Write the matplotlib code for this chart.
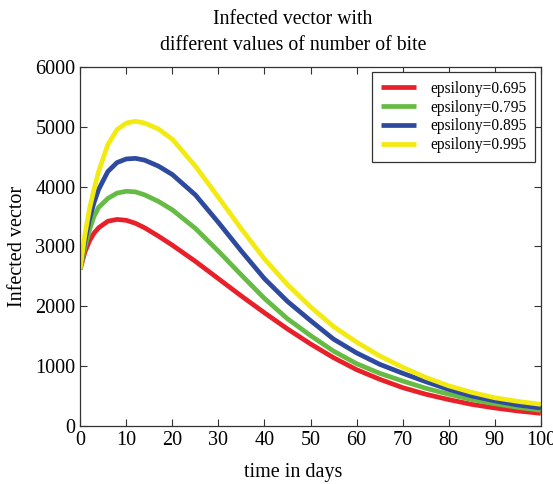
import matplotlib
matplotlib.use("Agg")
import matplotlib.pyplot as plt
import numpy as np

# values
days = [0, 1, 2, 3, 4, 6, 8, 10, 12, 14, 17, 20, 25, 30, 35, 40, 45, 50,
        55, 60, 65, 70, 75, 80, 85, 90, 95, 100]
eps_0695 = [2620, 2900, 3090, 3220, 3310, 3420, 3450, 3435, 3385, 3310, 3170,
            3020, 2750, 2460, 2170, 1890, 1620, 1370, 1140, 940, 780, 640,
            530, 440, 360, 300, 250, 210]
eps_0795 = [2620, 2980, 3270, 3500, 3650, 3800, 3890, 3920, 3910, 3860, 3750,
            3610, 3300, 2920, 2520, 2130, 1790, 1510, 1250, 1040, 880, 750,
            630, 530, 440, 370, 310, 260]
eps_0895 = [2620, 3080, 3450, 3730, 3950, 4250, 4400, 4460, 4470, 4440, 4340,
            4200, 3860, 3400, 2920, 2460, 2080, 1760, 1450, 1220, 1030, 880,
            740, 610, 500, 420, 350, 300]
eps_0995 = [2620, 3180, 3620, 3950, 4250, 4700, 4950, 5060, 5090, 5060, 4960,
            4790, 4340, 3820, 3290, 2790, 2360, 1990, 1660, 1400, 1170, 980,
            810, 670, 560, 470, 410, 360]

labels = ['epsilony=0.695', 'epsilony=0.795', 'epsilony=0.895', 'epsilony=0.995']
colors = ['#e8202a', '#66bb44', '#2e4a9e', '#f2ea10']

plt.rcParams['font.family'] = ['Liberation Serif', 'DejaVu Serif']

fig = plt.figure(figsize=(5.53, 4.84), dpi=100)
ax = fig.add_axes([0.145, 0.12, 0.833, 0.742])

for vals, lab, c in zip([eps_0695, eps_0795, eps_0895, eps_0995], labels, colors):
    ax.plot(days, vals, color=c, linewidth=3.4, label=lab,
            solid_joinstyle='round', solid_capstyle='butt')

ax.set_xlim(0, 100)
ax.set_ylim(0, 6000)
ax.set_xticks(np.arange(0, 101, 10))
ax.set_yticks(np.arange(0, 6001, 1000))
ax.tick_params(direction='in', top=True, right=True, labelsize=14.5,
               length=5, width=0.8, color='#333333')
for sp in ax.spines.values():
    sp.set_color('#333333')
    sp.set_linewidth(0.9)

# x label and title sit left of the axes centre in the reference
fig.text(293 / 553, 1 - 472 / 484, 'time in days', fontsize=14.5,
         ha='center', va='center')
ax.set_ylabel('Infected vector', fontsize=14.5, labelpad=6)
fig.text(293 / 553, 1 - 19 / 484, 'Infected vector with', fontsize=14.2,
         ha='center', va='center')
fig.text(293 / 553, 1 - 45 / 484, 'different values of number of bite',
         fontsize=14.2, ha='center', va='center')

leg = ax.legend(loc='upper right', fontsize=11.2, handlelength=2.3,
                handletextpad=0.9, labelspacing=0.18, borderpad=0.55,
                fancybox=False, framealpha=1, edgecolor='#333333',
                borderaxespad=0.35)
leg.get_frame().set_linewidth(0.9)

fig.savefig('out.png', dpi=100)
